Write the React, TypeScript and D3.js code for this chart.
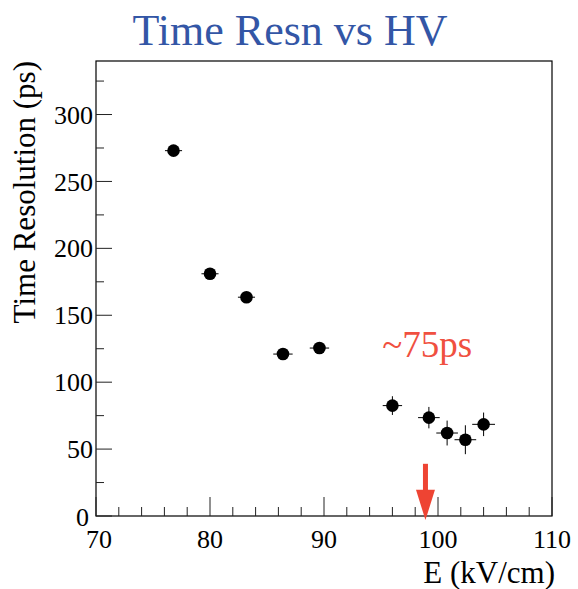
import React from 'react';
import * as d3 from 'd3';

// E field (kV/cm) and time resolution (ps)
const fieldE = [76.8, 80.0, 83.2, 86.4, 89.6, 96.0, 99.2, 100.8, 102.4, 104.0];
const timeRes = [273, 181, 163.5, 121, 125.5, 82.5, 73.5, 62, 57, 68.5];
const errE = [0.75, 0.75, 0.75, 0.85, 0.85, 0.85, 0.95, 0.95, 0.95, 1.0];
const errT = [2.5, 2.5, 2.5, 2.5, 2.5, 7, 8, 9.3, 10.8, 8.8];

const xTicks = [70, 80, 90, 100, 110];
const yTicks = [0, 50, 100, 150, 200, 250, 300];

// operating point marker and label
const arrowE = 98.9;
const arrowFrom = 39;
const arrowTo = -3;
const noteE = 95.1;
const noteT = 118.5;
const noteText = '~75ps';

const W = 578;
const H = 589;
const margin = { top: 61, right: 26, bottom: 73, left: 96 };
const font = '"Liberation Serif", "Times New Roman", serif';

export default function App() {
  const x = d3.scaleLinear().domain([70, 110]).range([margin.left, W - margin.right]);
  const y = d3.scaleLinear().domain([0, 340]).range([H - margin.bottom, margin.top]);

  const x0 = x(70), x1 = x(110), y0 = y(0), y1 = y(340);
  const xMinor = d3.range(70, 110.01, 2);
  const yMinor = d3.range(0, 340.01, 25);

  const pts = fieldE.map((e, i) => ({ e, t: timeRes[i], ex: errE[i], et: errT[i] }));

  const ax = x(arrowE);
  const headTop = y(arrowFrom) + 26;

  return (
    <svg width={W} height={H} style={{ position: 'absolute', left: 0, top: 0, background: '#fff' }}>
      <text x={290} y={45} textAnchor="middle" fontFamily={font} fontSize={44} fill="#3356a6">
        Time Resn vs HV
      </text>

      {/* frame */}
      <rect x={x0} y={y1} width={x1 - x0} height={y0 - y1} fill="none" stroke="#000" strokeWidth={1.2} />

      {/* x ticks */}
      {xMinor.map(v => (
        <line key={'xm' + v} x1={x(v)} x2={x(v)} y1={y0} y2={y0 - (v % 10 === 0 ? 19 : 9)} stroke="#222" strokeWidth={1} />
      ))}
      {xTicks.map(v => (
        <text key={'xl' + v} x={x(v) + (v === 70 ? 3 : 0)} y={548} textAnchor="middle" fontFamily={font} fontSize={26} fill="#000">
          {v}
        </text>
      ))}

      {/* y ticks */}
      {yMinor.map(v => (
        <line key={'ym' + v} x1={x0} x2={x0 + (v % 50 === 0 ? 16 : 8)} y1={y(v)} y2={y(v)} stroke="#222" strokeWidth={1} />
      ))}
      {yTicks.map(v => (
        <text
          key={'yl' + v}
          x={v === 0 ? 89 : 93}
          y={y(v) + (v === 0 ? 1 : 0)}
          dy="0.35em"
          textAnchor="end"
          fontFamily={font}
          fontSize={26}
          fill="#000"
        >
          {v}
        </text>
      ))}

      {/* axis titles */}
      <text x={555} y={583} textAnchor="end" fontFamily={font} fontSize={31} fill="#000">
        E (kV/cm)
      </text>
      <text
        transform={`translate(35,${margin.top}) rotate(-90)`}
        textAnchor="end"
        fontFamily={font}
        fontSize={31}
        fill="#000"
      >
        Time Resolution (ps)
      </text>

      {/* data with error bars */}
      {pts.map((p, i) => (
        <g key={'p' + i}>
          <line x1={x(p.e - p.ex)} x2={x(p.e + p.ex)} y1={y(p.t)} y2={y(p.t)} stroke="#000" strokeWidth={1} />
          <line x1={x(p.e)} x2={x(p.e)} y1={y(p.t - p.et)} y2={y(p.t + p.et)} stroke="#000" strokeWidth={1} />
          <circle cx={x(p.e)} cy={y(p.t)} r={6.3} fill="#000" />
        </g>
      ))}

      {/* annotation */}
      <text x={x(noteE)} y={y(noteT)} fontFamily={font} fontSize={37} fill="#f05040">
        {noteText}
      </text>
      <rect x={ax - 2.5} y={y(arrowFrom)} width={5} height={headTop - y(arrowFrom) + 1} fill="#ee4433" />
      <path d={`M${ax - 9.5},${headTop} L${ax + 9.5},${headTop} L${ax},${y(arrowTo)} Z`} fill="#ee4433" />
    </svg>
  );
}
